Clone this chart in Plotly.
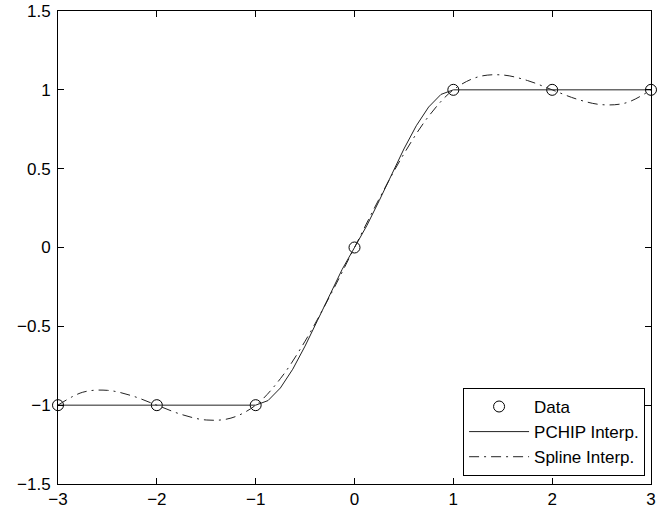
import plotly.graph_objects as go

# Data points
x_data = [-3, -2, -1, 0, 1, 2, 3]
y_data = [-1, -1, -1, 0, 1, 1, 1]

# PCHIP curve
x_pchip = [-3, -2, -1, -0.875, -0.75, -0.625, -0.5, -0.375, -0.25, -0.125,
           0, 0.125, 0.25, 0.375, 0.5, 0.625, 0.75, 0.875, 1, 2, 3]
y_pchip = [-1, -1, -1, -0.971, -0.891, -0.772, -0.625, -0.463, -0.297, -0.139,
           0, 0.139, 0.297, 0.463, 0.625, 0.772, 0.891, 0.971, 1, 1, 1]

# Spline curve
x_spline = [-3, -2.75, -2.5, -2.25, -2, -1.75, -1.5, -1.25, -1, -0.75, -0.5, -0.25,
            0, 0.25, 0.5, 0.75, 1, 1.25, 1.5, 1.75, 2, 2.25, 2.5, 2.75, 3]
y_spline = [-1, -0.918, -0.906, -0.941, -1, -1.059, -1.094, -1.082, -1, -0.832, -0.594, -0.309,
            0, 0.309, 0.594, 0.832, 1, 1.082, 1.094, 1.059, 1, 0.941, 0.906, 0.918, 1]

x_ticks = [-3, -2, -1, 0, 1, 2, 3]
y_ticks = [-1.5, -1, -0.5, 0, 0.5, 1, 1.5]

FONT = "Liberation Sans, Arial, Helvetica, sans-serif"

fig = go.Figure()
fig.add_trace(go.Scatter(
    x=x_data, y=y_data, mode="markers", name="Data", cliponaxis=False,
    marker=dict(symbol="circle-open", size=11, color="black", line=dict(width=1, color="black")),
))
fig.add_trace(go.Scatter(
    x=x_pchip, y=y_pchip, mode="lines", name="PCHIP Interp.",
    line=dict(color="#222222", width=1),
))
fig.add_trace(go.Scatter(
    x=x_spline, y=y_spline, mode="lines", name="Spline Interp.",
    line=dict(color="#222222", width=1, shape="spline", smoothing=1.0, dash="10px,5px,2px,5px"),
))

axis_common = dict(
    showgrid=False, zeroline=False, showline=True, linecolor="black", linewidth=1,
    mirror="ticks", ticks="inside", ticklen=6, tickwidth=1, tickcolor="black",
    tickfont=dict(family=FONT, size=17, color="black"), automargin=False,
)
fig.update_xaxes(range=[-3, 3], tickvals=x_ticks, **axis_common)
fig.update_yaxes(range=[-1.5, 1.5], tickvals=y_ticks, ticklabelstandoff=3, **axis_common)

fig.update_layout(
    width=664, height=511,
    margin=dict(l=58, r=13, t=11, b=27),
    plot_bgcolor="white", paper_bgcolor="white",
    font=dict(family=FONT, size=17, color="black"),
    showlegend=True,
    legend=dict(
        x=0.99, y=0.017, xanchor="right", yanchor="bottom",
        bgcolor="white", bordercolor="black", borderwidth=1,
        font=dict(family=FONT, size=17), itemwidth=60, tracegroupgap=0,
    ),
)

fig.write_html("out.html")
